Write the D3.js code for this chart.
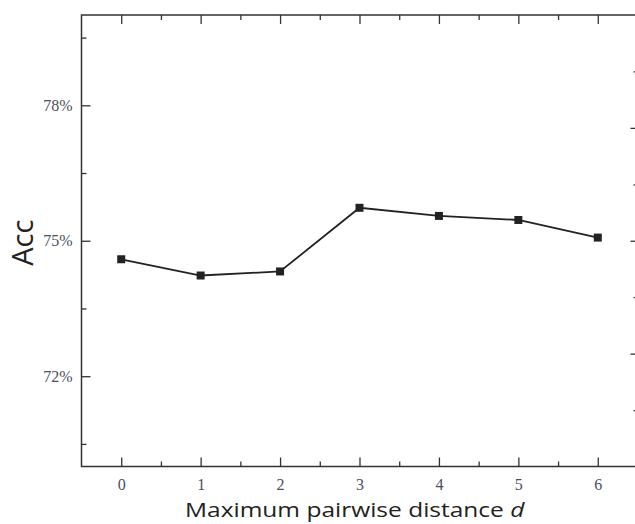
<!DOCTYPE html>
<html>
<head>
<meta charset="utf-8">
<script src="https://cdn.jsdelivr.net/npm/d3@7"></script>
<style>
  body { margin: 0; background: #fff; }
  .tick text { font-family: "Liberation Serif", "DejaVu Serif", serif; fill: #4a4f5c; }
</style>
</head>
<body>
<div id="chart"></div>
<script>
// data
var distances = [0, 1, 2, 3, 4, 5, 6];
var accValues = [74.59, 74.23, 74.32, 75.73, 75.55, 75.46, 75.07];
var yMajorTicks = [72, 75, 78];
var yMinorTicks = [70.5, 73.5, 76.5, 79.5];
var rightMajorTicks = [72.5, 75, 77.5];
var rightMinorTicks = [71.25, 73.75, 76.25, 78.75];
var xMinorTicks = [0.5, 1.5, 2.5, 3.5, 4.5, 5.5];

var svgWidth = 635, svgHeight = 524;
var margin = {top: 15, right: -2.5, bottom: 57.5, left: 81.5},
    width = svgWidth - margin.left - margin.right,
    height = svgHeight - margin.top - margin.bottom;

var svg = d3.select("#chart")
  .append("svg")
    .attr("width", svgWidth)
    .attr("height", svgHeight)
  .append("g")
    .attr("transform", "translate(" + margin.left + "," + margin.top + ")");

var x = d3.scaleLinear()
  .domain([-0.5, 6.5])
  .range([0, width]);

var y = d3.scaleLinear()
  .domain([70, 80])
  .range([height, 0]);

var axisColor = "#333";

// bottom axis, ticks pointing in
svg.append("g")
  .attr("transform", "translate(0," + height + ")")
  .call(d3.axisBottom(x).tickValues(distances).tickSize(-9).tickPadding(12)
    .tickFormat(d3.format("d")));
svg.append("g")
  .attr("transform", "translate(0," + height + ")")
  .call(d3.axisBottom(x).tickValues(xMinorTicks).tickSize(-5).tickFormat(""));

// top axis mirrors the bottom one
svg.append("g")
  .call(d3.axisTop(x).tickValues(distances).tickSize(-9).tickFormat(""));
svg.append("g")
  .call(d3.axisTop(x).tickValues(xMinorTicks).tickSize(-5).tickFormat(""));

// left axis
svg.append("g")
  .call(d3.axisLeft(y).tickValues(yMajorTicks).tickSize(-9).tickPadding(9)
    .tickFormat(d => d + "%"));
svg.append("g")
  .call(d3.axisLeft(y).tickValues(yMinorTicks).tickSize(-5).tickFormat(""));

// right axis has its own spacing
svg.append("g")
  .attr("transform", "translate(" + width + ",0)")
  .call(d3.axisRight(y).tickValues(rightMajorTicks).tickSize(-7).tickFormat(""));
svg.append("g")
  .attr("transform", "translate(" + width + ",0)")
  .call(d3.axisRight(y).tickValues(rightMinorTicks).tickSize(-4).tickFormat(""));

svg.selectAll(".domain").remove();
svg.selectAll(".tick line").attr("stroke", axisColor).attr("stroke-width", 1.3);
svg.selectAll(".tick text").attr("font-size", 16);

// frame
svg.append("rect")
  .attr("x", 0).attr("y", 0)
  .attr("width", width).attr("height", height)
  .attr("fill", "none")
  .attr("stroke", axisColor)
  .attr("stroke-width", 1.5);

// line + square markers
var line = d3.line()
  .x((d, i) => x(distances[i]))
  .y(d => y(d));

svg.append("path")
  .datum(accValues)
  .attr("fill", "none")
  .attr("stroke", "#222")
  .attr("stroke-width", 1.8)
  .attr("d", line);

var size = 8;
svg.selectAll(".marker")
  .data(accValues)
  .join("rect")
    .attr("class", "marker")
    .attr("x", (d, i) => x(distances[i]) - size / 2)
    .attr("y", d => y(d) - size / 2)
    .attr("width", size)
    .attr("height", size)
    .attr("fill", "#222");

// axis titles
svg.append("text")
  .attr("transform", "rotate(-90)")
  .attr("x", -(y(75)) - 2)
  .attr("y", -margin.left + 33)
  .attr("text-anchor", "middle")
  .style("font-family", "'Open Sans', sans-serif")
  .style("font-size", "29px")
  .style("fill", "#222")
  .text("Acc");

// the original title font is wider, so stretch it horizontally
var xTitle = svg.append("text")
  .attr("transform", "translate(" + (185 - margin.left) + "," + (height + 50) + ") scale(1.225,1)")
  .style("font-family", "'Open Sans', sans-serif")
  .style("font-size", "20px")
  .style("fill", "#222");
xTitle.append("tspan").text("Maximum pairwise distance ");
xTitle.append("tspan").style("font-style", "italic").text("d");
</script>
</body>
</html>
